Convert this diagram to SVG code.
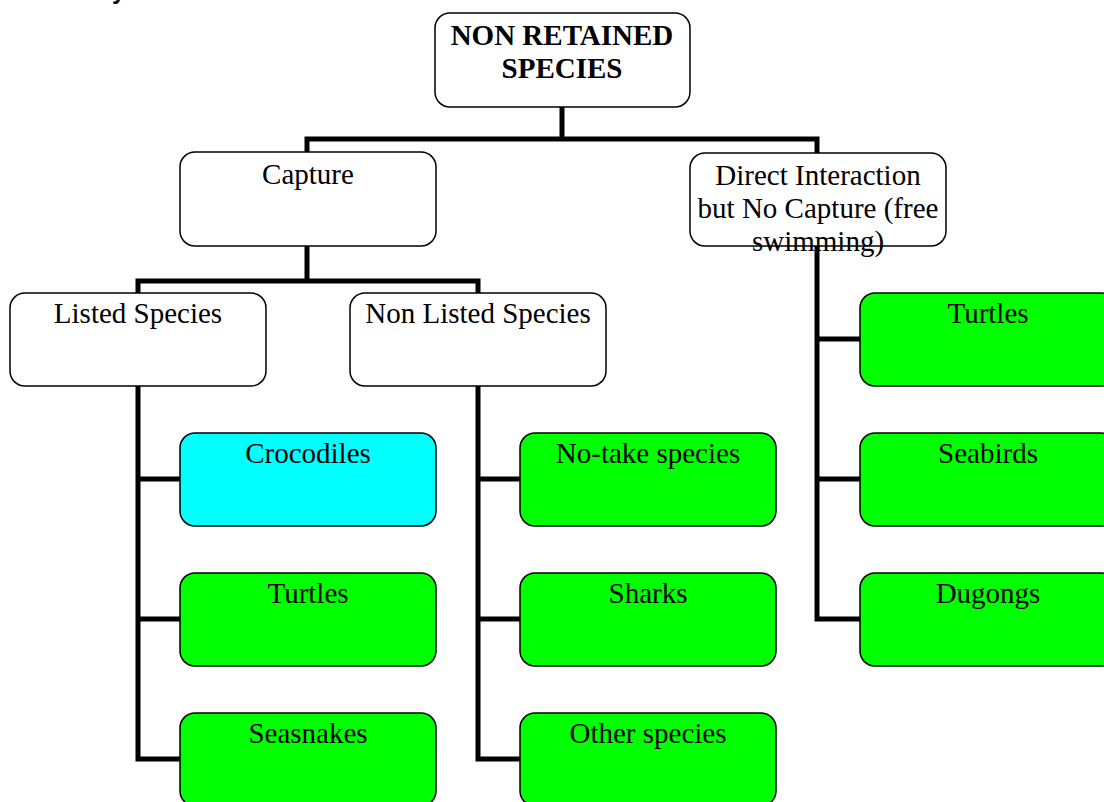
<svg xmlns="http://www.w3.org/2000/svg" width="1104" height="802" viewBox="0 0 1104 802">
<style>
.box{fill:#fff;stroke:#000;stroke-width:1.5}
.g{fill:#00ff00}
.c{fill:#00ffff}
.t{font-family:"Liberation Serif","Times New Roman",serif;font-size:29px;fill:#000;text-anchor:middle}
.b{font-weight:bold}
.ln{fill:none;stroke:#000;stroke-width:5;stroke-linejoin:miter;stroke-linecap:butt}
</style>
<rect width="1104" height="802" fill="#fff"/>
<text x="112" y="-1" font-family="Liberation Sans, Arial, sans-serif" font-size="24" font-weight="bold">y</text>
<g id="connectors">
<path class="ln" d="M562,107 V139 M307,152 V139 H817 V153"/>
<path class="ln" d="M307,246 V281 M138,293 V281 H478 V293"/>
<path class="ln" d="M138,386 V759 H180 M138,479 H180 M138,619 H180"/>
<path class="ln" d="M478,386 V759 H520 M478,479 H520 M478,619 H520"/>
<path class="ln" d="M817,246 V619 H860 M817,339 H860 M817,479 H860"/>
</g>
<g id="root"><rect class="box" x="435" y="13" width="255" height="94" rx="15"/></g>
<g id="capture"><rect class="box" x="180" y="152" width="256" height="94" rx="15"/></g>
<g id="direct"><rect class="box" x="690" y="153" width="256" height="93" rx="15"/></g>
<g id="listed"><rect class="box" x="10" y="293" width="256" height="93" rx="15"/></g>
<g id="nonlisted"><rect class="box" x="350" y="293" width="256" height="93" rx="15"/></g>
<g id="crocodiles"><rect class="box c" x="180" y="433" width="256" height="93" rx="15"/></g>
<g id="turtles1"><rect class="box g" x="180" y="573" width="256" height="93" rx="15"/></g>
<g id="seasnakes"><rect class="box g" x="180" y="713" width="256" height="93" rx="15"/></g>
<g id="notake"><rect class="box g" x="520" y="433" width="256" height="93" rx="15"/></g>
<g id="sharks"><rect class="box g" x="520" y="573" width="256" height="93" rx="15"/></g>
<g id="other"><rect class="box g" x="520" y="713" width="256" height="93" rx="15"/></g>
<g id="turtles2"><rect class="box g" x="860" y="293" width="256" height="93" rx="15"/></g>
<g id="seabirds"><rect class="box g" x="860" y="433" width="256" height="93" rx="15"/></g>
<g id="dugongs"><rect class="box g" x="860" y="573" width="256" height="93" rx="15"/></g>
<g id="labels">
<text class="t b" x="562" y="45">NON RETAINED</text>
<text class="t b" x="562" y="78">SPECIES</text>
<text class="t" x="308" y="184">Capture</text>
<text class="t" x="818" y="185">Direct Interaction</text>
<text class="t" x="818" y="218">but No Capture (free</text>
<text class="t" x="818" y="251">swimming)</text>
<text class="t" x="138" y="323">Listed Species</text>
<text class="t" x="478" y="323">Non Listed Species</text>
<text class="t" x="308" y="463">Crocodiles</text>
<text class="t" x="308" y="603">Turtles</text>
<text class="t" x="308" y="743">Seasnakes</text>
<text class="t" x="648" y="463">No-take species</text>
<text class="t" x="648" y="603">Sharks</text>
<text class="t" x="648" y="743">Other species</text>
<text class="t" x="988" y="323">Turtles</text>
<text class="t" x="988" y="463">Seabirds</text>
<text class="t" x="988" y="603">Dugongs</text>
</g>
</svg>
